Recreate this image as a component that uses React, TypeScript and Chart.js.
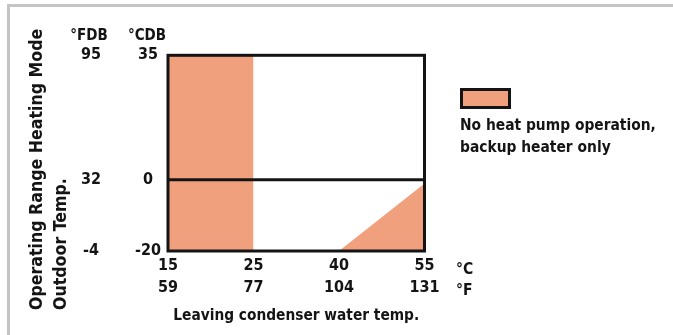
import React, { useEffect, useRef } from 'react';
import { Chart, registerables } from 'chart.js';

Chart.register(...registerables);

// ---- data ----
const xLabelsC = ['15', '25', '40', '55'];
const xLabelsF = ['59', '77', '104', '131'];
const yTicksC = [-20, 0, 35];
const yLabelsF = ['-4', '32', '95'];
const yMin = -20;
const yMax = 35;
const backupBand = [
  { x: '15', y: 35 },
  { x: '25', y: 35 },
];
const backupTriangle = [
  { x: '40', y: -20 },
  { x: '55', y: -1 },
];
const freezeLine = [
  { x: '15', y: 0 },
  { x: '55', y: 0 },
];
const yTitleLines = ['Operating Range Heating Mode', 'Outdoor Temp.'];
const xTitle = 'Leaving condenser water temp.';
const yUnitF = '°FDB';
const yUnitC = '°CDB';
const xUnitC = '°C';
const xUnitF = '°F';
const legendLines = ['No heat pump operation,', 'backup heater only'];

// ---- style ----
const FONT = "'DejaVu Sans Condensed', 'Liberation Sans Narrow', 'Open Sans', sans-serif";
const ORANGE = '#F1A07E';
const INK = '#141414';
const FRAME = '#C4C4C4';

const decor = {
  id: 'decor',
  beforeDraw(chart: any) {
    const { ctx, width, height } = chart;
    ctx.save();
    ctx.fillStyle = '#ffffff';
    ctx.fillRect(0, 0, width, height);
    ctx.fillStyle = FRAME;
    ctx.fillRect(7, 4, width - 7, 3);
    ctx.fillRect(7, 4, 3, height - 4);
    ctx.restore();
  },
  afterDatasetsDraw(chart: any) {
    const { ctx, chartArea: a } = chart;
    ctx.save();
    ctx.strokeStyle = INK;
    ctx.lineWidth = 3;
    ctx.strokeRect(a.left, a.top, a.right - a.left, a.bottom - a.top);
    ctx.restore();
  },
  afterDraw(chart: any) {
    const { ctx } = chart;
    ctx.save();
    ctx.fillStyle = INK;

    // y-axis title (two lines, rotated, start-aligned at the bottom)
    ctx.font = `bold 17.6px ${FONT}`;
    ctx.textAlign = 'left';
    ctx.textBaseline = 'alphabetic';
    yTitleLines.forEach((line, i) => {
      ctx.save();
      ctx.translate(41.5 + i * 24, 310);
      ctx.rotate(-Math.PI / 2);
      ctx.fillText(line, 0, 0);
      ctx.restore();
    });

    // unit labels above y axes
    ctx.font = `bold 15px ${FONT}`;
    ctx.textAlign = 'center';
    ctx.textBaseline = 'alphabetic';
    ctx.fillText(yUnitF, 89, 40);
    ctx.fillText(yUnitC, 147, 40);

    // unit labels right of x axes
    ctx.font = `bold 15.5px ${FONT}`;
    ctx.textAlign = 'left';
    ctx.fillText(xUnitC, 456, 273.5);
    ctx.fillText(xUnitF, 456, 295);

    // legend
    ctx.fillStyle = ORANGE;
    ctx.fillRect(461.5, 89.5, 48, 18);
    ctx.strokeStyle = INK;
    ctx.lineWidth = 3;
    ctx.strokeRect(461.5, 89.5, 48, 18);
    ctx.fillStyle = INK;
    ctx.font = `bold 15.4px ${FONT}`;
    ctx.textAlign = 'left';
    legendLines.forEach((line, i) => {
      ctx.fillText(line, 460, 129.5 + i * 22.5);
    });
    ctx.restore();
  },
};

export default function App() {
  const ref = useRef<HTMLCanvasElement | null>(null);

  useEffect(() => {
    if (!ref.current) return;
    const tickFont = { family: FONT, size: 16, weight: 'bold' as const };
    const chart = new Chart(ref.current, {
      type: 'line',
      data: {
        labels: xLabelsC,
        datasets: [
          {
            label: 'freeze',
            data: freezeLine as any,
            borderColor: INK,
            borderWidth: 3,
            pointRadius: 0,
            fill: false,
            order: 0,
          },
          {
            label: 'No heat pump operation, backup heater only',
            data: backupBand as any,
            borderWidth: 0,
            borderColor: 'rgba(0,0,0,0)',
            backgroundColor: ORANGE,
            pointRadius: 0,
            fill: 'start',
            order: 1,
          },
          {
            label: 'No heat pump operation, backup heater only (high water temp)',
            data: backupTriangle as any,
            borderWidth: 0,
            borderColor: 'rgba(0,0,0,0)',
            backgroundColor: ORANGE,
            pointRadius: 0,
            fill: 'start',
            order: 2,
          },
        ],
      },
      plugins: [decor],
      options: {
        animation: false,
        responsive: false,
        devicePixelRatio: 1,
        layout: { padding: { left: 10, top: 55.3, right: 248.5, bottom: 9.9 } },
        plugins: { legend: { display: false }, tooltip: { enabled: false } },
        scales: {
          x: {
            type: 'category',
            position: 'bottom',
            weight: 0,
            offset: false,
            grid: { display: false, drawTicks: false },
            border: { display: false },
            ticks: { font: tickFont, color: INK, padding: 5.6, maxRotation: 0, autoSkip: false },
            afterFit: (s: any) => { s.height = 27.4; },
          },
          xF: {
            type: 'category',
            position: 'bottom',
            weight: 1,
            offset: false,
            labels: xLabelsF,
            grid: { display: false, drawTicks: false },
            border: { display: false },
            ticks: { font: tickFont, color: INK, padding: 0, maxRotation: 0, autoSkip: false },
            title: {
              display: true,
              text: xTitle,
              color: INK,
              font: { family: FONT, size: 15.3, weight: 'bold' },
              padding: 0,
            },
            afterFit: (s: any) => { s.height = 46.7; },
          },
          y: {
            type: 'linear',
            position: 'left',
            weight: 0,
            min: yMin,
            max: yMax,
            grid: { display: false, drawTicks: false },
            border: { display: false },
            afterBuildTicks: (s: any) => { s.ticks = yTicksC.map((v) => ({ value: v })); },
            ticks: {
              font: tickFont,
              color: INK,
              padding: 7,
              crossAlign: 'center',
              callback: (v: any) => String(v),
            },
            afterFit: (s: any) => { s.width = 67; },
          },
          yF: {
            type: 'linear',
            position: 'left',
            weight: 1,
            min: yMin,
            max: yMax,
            grid: { display: false, drawTicks: false },
            border: { display: false },
            afterBuildTicks: (s: any) => { s.ticks = yTicksC.map((v) => ({ value: v })); },
            ticks: {
              font: tickFont,
              color: INK,
              padding: 0,
              crossAlign: 'center',
              callback: (_v: any, i: number) => yLabelsF[i],
            },
            afterFit: (s: any) => { s.width = 91; },
          },
        },
      } as any,
    });
    return () => chart.destroy();
  }, []);

  return (
    <div style={{ position: 'fixed', left: 0, top: 0, width: 673, height: 335, background: '#fff' }}>
      <canvas ref={ref} width={673} height={335} style={{ display: 'block', width: 673, height: 335 }} />
    </div>
  );
}
